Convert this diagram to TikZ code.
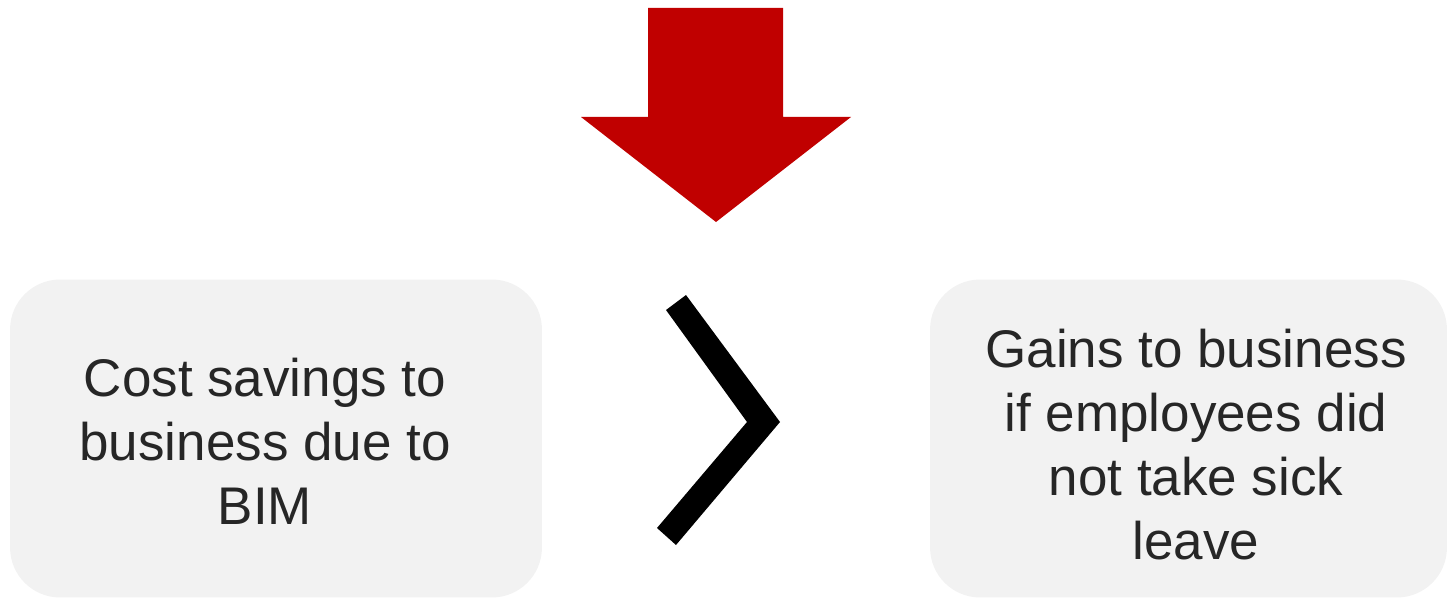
\documentclass[tikz,border=0pt]{standalone}
\usepackage{fontspec}
\setmainfont{Liberation Sans}
\usepackage{xcolor}
\usepackage{tikz}
\usetikzlibrary{positioning}
\definecolor{cRed}{HTML}{C00000}
\definecolor{cSoftGray}{HTML}{F2F2F2}
\definecolor{cText}{HTML}{262626}
\tikzset{
  panel/.style = {rectangle, rounded corners=1cm, draw=none, fill=cSoftGray,
                  inner sep=0pt},
  txt/.style   = {align=center, text=cText, inner sep=0pt,
                  font=\fontsize{1.06cm}{1.28cm}\selectfont},
}
\begin{document}
\begin{tikzpicture}[x=0.02cm, y=-0.02cm]
  \useasboundingbox (0,0) rectangle (1447,598);

  % boxes
  \node[panel, minimum width=10.64cm, minimum height=6.36cm] (cost) at (276,438.5) {};
  \node[panel, minimum width=10.34cm, minimum height=6.36cm] (gain) at (1188.5,438.5) {};
  \node[txt] (costtxt) at (265,441) {Cost savings to\\business due to\\BIM};
  \node[txt] (gaintxt) at (1196,445) {Gains to business\\if employees did\\not take sick\\leave};

  % red arrow
  \fill[cRed] (648,8) -- (783,8) -- (783,117) -- (851,117) -- (716,222)
    -- (581,117) -- (648,117) -- cycle;

  % greater-than sign
  \fill[black] (666,310) -- (686,295) -- (780,422) -- (676,545)
    -- (657,528) -- (747,422) -- cycle;
\end{tikzpicture}
\end{document}
